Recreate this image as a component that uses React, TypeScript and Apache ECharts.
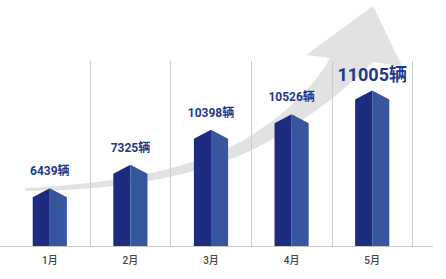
import React, { useEffect, useRef } from "react";
import * as echarts from "echarts";

// ---- data ----
const months = ["1月", "2月", "3月", "4月", "5月"];
const sales = [6439, 7325, 10398, 10526, 11005];
const unit = "辆";
// stylised relative bar heights as drawn in the infographic (tallest = 100)
const barHeights = [37.2, 52.2, 74.7, 84.8, 100];

const ARROW_D =
  "M 25 188 C 110 184 200 170 255 133 C 290 110 315 85 330 58 L 306 55 L 373 6 L 402 66 L 373 62 C 345 90 310 118 262 145 C 200 178 110 191 25 191 Z";

let shapeRegistered = false;
function ensureShape() {
  if (shapeRegistered) return;
  echarts.graphic.registerShape("growthArrow", echarts.graphic.extendPath(ARROW_D, {}));
  shapeRegistered = true;
}

const FONT = 'Roboto, "Noto Sans CJK SC", sans-serif';

export default function App() {
  const ref = useRef<HTMLDivElement>(null);
  useEffect(() => {
    document.body.style.margin = "0";
    ensureShape();
    const chart = echarts.init(ref.current!, null, { renderer: "svg" });
    chart.setOption({
      animation: false,
      backgroundColor: "#ffffff",
      grid: { left: 9.5, right: 33.5, top: 61, bottom: 33 },
      xAxis: {
        type: "category",
        data: months,
        boundaryGap: true,
        axisLine: { show: false },
        axisTick: { show: false },
        axisLabel: { color: "#444", fontSize: 10, fontWeight: 500, margin: 9, fontFamily: FONT },
        splitLine: {
          show: true,
          interval: (i: number) => i > 0,
          lineStyle: { color: "#cdcdcd", width: 1 },
        },
      },
      yAxis: {
        type: "value",
        min: 0,
        max: 119,
        show: false,
        splitLine: { show: false },
      },
      graphic: [
        {
          type: "growthArrow",
          z: -10,
          silent: true,
          style: { fill: "#e2e2e2" },
        },
        {
          type: "line",
          z: -5,
          silent: true,
          shape: { x1: 0, y1: 246.5, x2: 433, y2: 246.5 },
          style: { stroke: "#c8c8c8", lineWidth: 1 },
        },
      ],
      series: [
        {
          type: "custom",
          data: barHeights.map((h, i) => [i, h]),
          encode: { x: 0, y: 1 },
          z: 5,
          renderItem: (params: any, api: any) => {
            const i = api.value(0);
            const h = api.value(1);
            const peak = api.coord([i, h]);
            const base = api.coord([i, 0]);
            const band = api.size([1, 0])[0];
            const half = band * 0.212;
            const roof = 9;
            const xc = peak[0];
            const yp = peak[1];
            const yb = base[1];
            const ys = yp + roof;
            const idx = params.dataIndex;
            const last = idx === sales.length - 1;
            return {
              type: "group",
              children: [
                {
                  type: "polygon",
                  shape: { points: [[xc - half, yb], [xc - half, ys], [xc, yp], [xc, yb]] },
                  style: { fill: "#1d2b80" },
                },
                {
                  type: "polygon",
                  shape: { points: [[xc, yb], [xc, yp], [xc + half, ys], [xc + half, yb]] },
                  style: { fill: "#36579d" },
                },
                {
                  type: "text",
                  x: xc,
                  y: yp - (last ? 16 : 17),
                  style: {
                    text: sales[idx] + unit,
                    align: "center",
                    verticalAlign: "middle",
                    fill: "#1f378a",
                    fontSize: last ? 18 : 12,
                    fontWeight: "bold",
                    fontFamily: FONT,
                  },
                },
              ],
            };
          },
        },
      ],
    });
    return () => chart.dispose();
  }, []);
  return <div ref={ref} style={{ width: 446, height: 279 }} />;
}
